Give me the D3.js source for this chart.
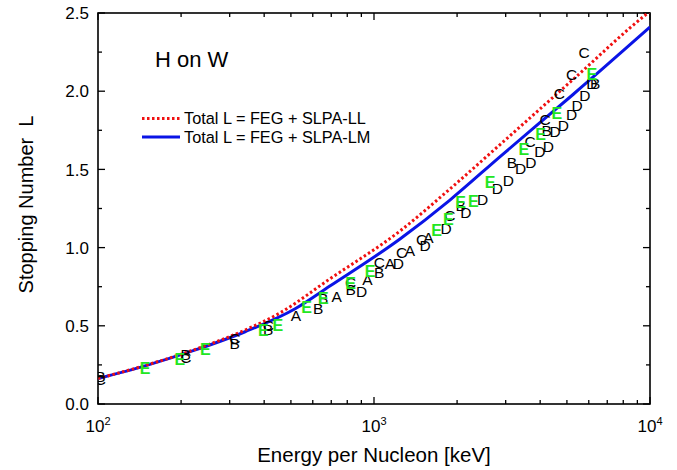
<script src="https://d3js.org/d3.v7.min.js"></script>
<body style="margin:0">
<script>
// stopping number of H in W: two model curves plus measured points (letters A-E)

// model curves, energy in keV per nucleon
var llEnergy = [100, 148, 224, 341, 456, 692, 1242, 1884, 2864, 5263, 9834, 10000];
var llValue  = [0.163, 0.246, 0.348, 0.473, 0.582, 0.80, 1.106, 1.375, 1.659, 2.075, 2.50, 2.51];
var lmEnergy = [100, 148, 224, 341, 518, 692, 1242, 1884, 2864, 5263, 10000];
var lmValue  = [0.163, 0.244, 0.344, 0.462, 0.609, 0.754, 1.055, 1.304, 1.582, 1.979, 2.41];

// measured data sets
var aEnergy = [521, 733, 946, 1143, 1349, 1574];
var aValue  = [0.569, 0.69, 0.797, 0.90, 0.98, 1.066];
var bEnergy = [102, 208, 313, 414, 628, 655, 823, 1045, 2059, 3158, 4220, 6323];
var bValue  = [0.175, 0.32, 0.39, 0.478, 0.612, 0.675, 0.733, 0.84, 1.27, 1.543, 1.747, 2.05];
var cEnergy = [102, 208, 313, 414, 823, 1045, 1259, 1489, 1884, 3675, 4167, 4693, 5200, 5766];
var cValue  = [0.155, 0.30, 0.42, 0.50, 0.78, 0.903, 0.967, 1.053, 1.208, 1.677, 1.82, 1.987, 2.11, 2.246];
var dEnergy = [902, 1225, 1531, 1824, 2153, 2477, 2797, 3070, 3399, 3698, 3993, 4283, 4527, 4853, 5200, 5446, 5808, 6150];
var dValue  = [0.718, 0.90, 1.017, 1.123, 1.223, 1.309, 1.379, 1.432, 1.507, 1.543, 1.613, 1.65, 1.741, 1.784, 1.854, 1.912, 1.976, 2.05];
var eEnergy = [148, 198, 245, 397, 448, 570, 655, 823, 968, 1687, 1858, 2059, 2291, 2633, 3491, 4017, 4592, 6150];
var eValue  = [0.228, 0.286, 0.35, 0.469, 0.505, 0.618, 0.676, 0.772, 0.852, 1.112, 1.183, 1.287, 1.298, 1.415, 1.629, 1.724, 1.859, 2.11];

var yTicks = [0, 0.5, 1.0, 1.5, 2.0, 2.5];
var xTicks = [100, 1000, 10000];

var font = "Arial, 'Liberation Sans', sans-serif";

// plot box
var margin = {top: 13, right: 27, bottom: 66, left: 98},
    width = 677 - margin.left - margin.right,
    height = 470 - margin.top - margin.bottom;

var x = d3.scaleLog().domain([100, 10000]).range([0, width]);
var y = d3.scaleLinear().domain([0, 2.5]).range([height, 0]);

var svg = d3.select("body").append("svg")
    .attr("width", 677)
    .attr("height", 470)
    .style("background", "#fff")
  .append("g")
    .attr("transform", "translate(" + margin.left + "," + margin.top + ")");

svg.append("clipPath").attr("id", "clip")
  .append("rect").attr("width", width).attr("height", height);

// ticks pointing inward, on all four sides
var minorX = [];
[100, 1000].forEach(function(d) { for (var k = 2; k <= 9; k++) minorX.push(d * k); });
var minorY = [0.25, 0.75, 1.25, 1.75, 2.25];

function tickLines(vals, len, horizontal) {
  vals.forEach(function(v) {
    if (horizontal) {
      svg.append("line").attr("x1", x(v)).attr("x2", x(v)).attr("y1", height).attr("y2", height - len);
      svg.append("line").attr("x1", x(v)).attr("x2", x(v)).attr("y1", 0).attr("y2", len);
    } else {
      svg.append("line").attr("y1", y(v)).attr("y2", y(v)).attr("x1", 0).attr("x2", len);
      svg.append("line").attr("y1", y(v)).attr("y2", y(v)).attr("x1", width).attr("x2", width - len);
    }
  });
}
tickLines(xTicks, 7, true);
tickLines(minorX, 4, true);
tickLines(yTicks, 7, false);
tickLines(minorY, 4, false);
svg.selectAll("line").attr("stroke", "#000").attr("stroke-width", 1.3);

// frame
svg.append("rect")
    .attr("width", width).attr("height", height)
    .attr("fill", "none").attr("stroke", "#000").attr("stroke-width", 1.6);

// y tick labels
svg.selectAll(".ylab").data(yTicks).enter().append("text")
    .attr("x", -9).attr("y", function(d) { return y(d); })
    .attr("dy", "0.36em")
    .attr("text-anchor", "end")
    .style("font-family", font).style("font-size", "17px")
    .text(function(d) { return d.toFixed(1); });

// x tick labels 10^n
var xl = svg.selectAll(".xlab").data(xTicks).enter().append("text")
    .attr("x", function(d) { return x(d); }).attr("y", height + 28)
    .attr("text-anchor", "middle")
    .style("font-family", font).style("font-size", "17px");
xl.append("tspan").text("10");
xl.append("tspan").attr("dy", -7).style("font-size", "11px")
    .text(function(d) { return Math.round(Math.log10(d)); });

// axis titles
svg.append("text")
    .attr("x", width / 2).attr("y", height + 58)
    .attr("text-anchor", "middle")
    .style("font-family", font).style("font-size", "20.5px")
    .text("Energy per Nucleon [keV]");

svg.append("text")
    .attr("transform", "translate(" + (-65) + "," + (height / 2 - 4) + ") rotate(-90)")
    .attr("text-anchor", "middle")
    .style("font-family", font).style("font-size", "20px")
    .style("white-space", "pre")
    .text("Stopping Number  L");

// model curves
var line = d3.line()
    .x(function(d) { return x(d[0]); })
    .y(function(d) { return y(d[1]); })
    .curve(d3.curveMonotoneX);

var plot = svg.append("g").attr("clip-path", "url(#clip)");

plot.append("path")
    .datum(lmEnergy.map(function(e, i) { return [e, lmValue[i]]; }))
    .attr("d", line)
    .attr("fill", "none").attr("stroke", "#0a14e6").attr("stroke-width", 3);

plot.append("path")
    .datum(llEnergy.map(function(e, i) { return [e, llValue[i]]; }))
    .attr("d", line)
    .attr("fill", "none").attr("stroke", "#f01010").attr("stroke-width", 3)
    .attr("stroke-dasharray", "2.5,2.5");

// letter markers
function letters(en, val, ch, color, weight, size) {
  plot.selectAll(null).data(en).enter().append("text")
      .attr("x", function(d) { return x(d); })
      .attr("y", function(d, i) { return y(val[i]); })
      .attr("dy", "0.36em")
      .attr("text-anchor", "middle")
      .style("font-family", font).style("font-size", size)
      .style("font-weight", weight)
      .attr("fill", color)
      .text(ch);
}
letters(aEnergy, aValue, "A", "#000", "normal", "15.5px");
letters(bEnergy, bValue, "B", "#000", "normal", "15.5px");
letters(cEnergy, cValue, "C", "#000", "normal", "15.5px");
letters(dEnergy, dValue, "D", "#000", "normal", "15.5px");
letters(eEnergy, eValue, "E", "#22e622", "bold", "16px");

// title and legend
svg.append("text")
    .attr("x", 57).attr("y", 54)
    .style("font-family", font).style("font-size", "22px")
    .text("H on W");

var legend = [
  {label: "Total L = FEG + SLPA-LL", color: "#f01010", dash: "2.5,2.5"},
  {label: "Total L = FEG + SLPA-LM", color: "#0a14e6", dash: null}
];
legend.forEach(function(d, i) {
  var ly = 105.5 + i * 18.5;
  svg.append("line")
      .attr("x1", 44).attr("x2", 82).attr("y1", ly).attr("y2", ly)
      .attr("stroke", d.color).attr("stroke-width", 3)
      .attr("stroke-dasharray", d.dash);
  svg.append("text")
      .attr("x", 86).attr("y", ly).attr("dy", "0.36em")
      .style("font-family", font).style("font-size", "16.3px")
      .text(d.label);
});
</script>
</body>
